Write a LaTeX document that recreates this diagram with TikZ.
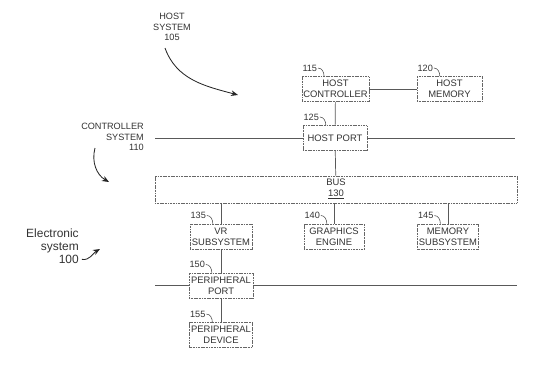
\documentclass[tikz,border=0pt]{standalone}
\usepackage{fontspec}
\setmainfont{Liberation Sans}
\usetikzlibrary{arrows.meta,positioning,calc}

\begin{document}
\begin{tikzpicture}[
  x=0.025cm, y=0.025cm,
  blk/.style={draw=black!60, dash pattern=on 0.8pt off 0.35pt, line width=0.55pt, minimum width=#1,
              minimum height=0.62cm, align=center, inner sep=1pt,
              font=\fontsize{6.7}{7.6}\selectfont, text=black!80},
  blk/.default=1.6cm,
  wire/.style={black!65, line width=0.5pt},
  ref/.style={font=\fontsize{6.5}{7.5}\selectfont, text=black!80, inner sep=0.5pt},
  lead/.style={black!70, line width=0.4pt},
  lab/.style={font=\fontsize{6.5}{7.5}\selectfont, text=black!80, inner sep=0pt},
  big/.style={font=\fontsize{8.5}{9.3}\selectfont, text=black!80, inner sep=0pt},
  curv/.style={-{Stealth[length=5pt,width=4pt]}, black!85, line width=0.6pt}
]
\useasboundingbox (0,0) rectangle (544,-375);

%% ---- Host side ----
\node[blk=1.625cm] (hc) at (335.5,-89)  {HOST\\CONTROLLER};
\node[blk=1.625cm] (hm) at (449.5,-89)  {HOST\\MEMORY};
\node[blk]         (hp) at (335,-138)   {HOST PORT};

%% ---- Bus ----
\node[blk=9.05cm, minimum height=0.675cm] (bus) at (336,-189.5) {BUS\\\underline{130}};

%% ---- Subsystems ----
\node[blk=1.55cm]  (vr) at (221,-236.5) {VR\\SUBSYSTEM};
\node[blk=1.5cm]   (ge) at (334,-236.5) {GRAPHICS\\ENGINE};
\node[blk=1.5cm]   (ms) at (448,-236.5) {MEMORY\\SUBSYSTEM};
\node[blk]         (pp) at (221,-285.5) {PERIPHERAL\\PORT};
\node[blk=1.575cm] (pd) at (221,-335)   {PERIPHERAL\\DEVICE};

%% Reference numbers
\foreach \b/\n in {hc/115, hm/120, hp/125, vr/135, ge/140, ms/145, pp/150, pd/155} {
  \node[ref, above right=0.1cm and 0cm of \b.north west] (r\n) {\n};
  \draw[lead] (r\n.east) to[out=0,in=90] ([xshift=0.15cm]r\n.east |- \b.north);
}

%% Connectors
\draw[wire] (hc) -- (hm);
\draw[wire] (hc) -- (hp);
\draw[wire] (hp) -- (bus);
\foreach \b in {vr,ge,ms}
  \draw[wire] (bus.south -| \b.north) -- (\b.north);
\draw[wire] (vr) -- (pp);
\draw[wire] (pp) -- (pd);

%% System boundary lines
\coordinate (cl) at (155,-138);
\coordinate (cr) at (515,-138);
\coordinate (pl) at (155,-285.5);
\coordinate (pr) at (517,-285.5);
\draw[wire] (cl) -- (hp);
\draw[wire] (hp) -- (cr);
\draw[wire] (pl) -- (pp);
\draw[wire] (pp) -- (pr);

%% Labels
\node[lab, align=center] (hs) at (172,-27) {HOST\\SYSTEM\\105};
\node[lab, align=right, anchor=east] (cs) at (144,-137) {CONTROLLER\\SYSTEM\\110};
\node[big, align=right, anchor=east] (es) at (79,-246) {Electronic\\system\\100};

%% Label arrows
\coordinate (hsa) at (238,-95);
\coordinate (csb) at (95,-148);
\coordinate (csa) at (109,-182);
\coordinate (esa) at (100,-249);
\draw[curv] ([shift={(-7,-7)}]hs.south) to[out=-70,in=165] (hsa);
\draw[curv] (csb) to[out=-105,in=150] (csa);
\draw[curv] ([xshift=2pt,yshift=-9.5]es.east) to[out=-10,in=210] (esa);

\end{tikzpicture}
\end{document}
